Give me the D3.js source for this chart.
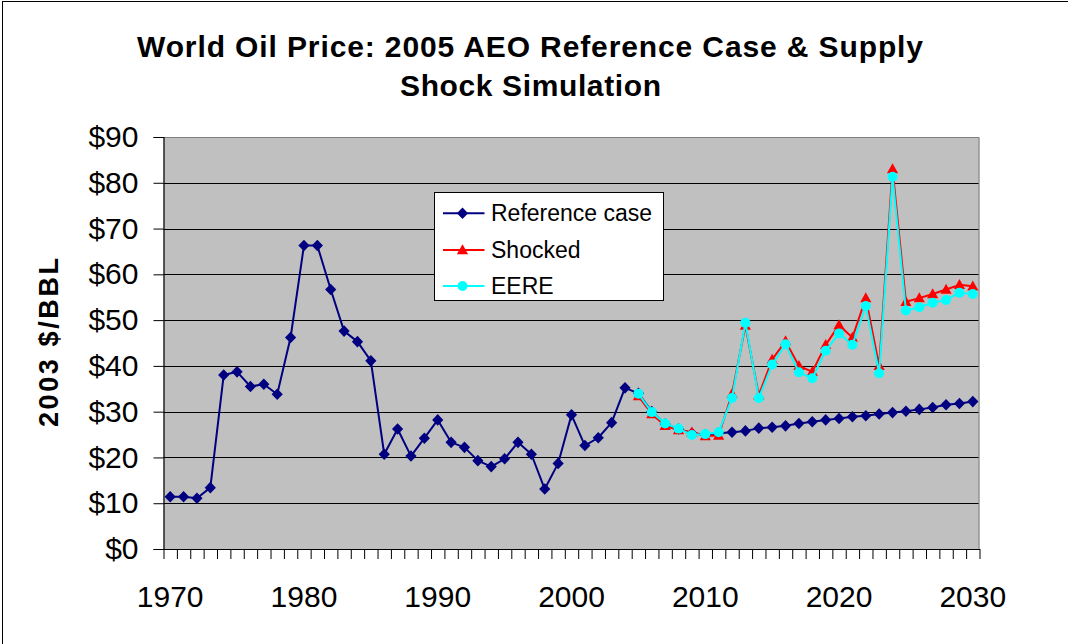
<!DOCTYPE html>
<html>
<head>
<meta charset="utf-8">
<script src="https://cdn.jsdelivr.net/npm/d3@7"></script>
<style>
  html, body { margin: 0; padding: 0; background: #fff; }
  svg { display: block; font-family: "Liberation Sans", Arial, sans-serif; }
</style>
</head>
<body>
<svg id="chart" width="1068" height="644"></svg>
<script>
// ---------- DATA ----------
const years = d3.range(1970, 2031);
const xTickLabels = ["1970", "1980", "1990", "2000", "2010", "2020", "2030"];
const yTickValues = [0, 10, 20, 30, 40, 50, 60, 70, 80, 90];

const referenceCase = [
  11.4, 11.4, 11.1, 13.4, 38.0, 38.7, 35.5, 36.0, 33.8, 46.2,   // 1970-1979
  66.3, 66.3, 56.7, 47.6, 45.3, 41.1, 20.7, 26.2, 20.3, 24.2,   // 1980-1989
  28.2, 23.3, 22.2, 19.3, 18.0, 19.7, 23.3, 20.7, 13.1, 18.7,   // 1990-1999
  29.3, 22.6, 24.3, 27.6, 35.2, 34.0, 30.0, 27.3, 26.2, 25.3,   // 2000-2009
  25.0, 25.3, 25.5, 25.8, 26.4, 26.6, 26.9, 27.4, 27.8, 28.2,   // 2010-2019
  28.5, 28.9, 29.1, 29.5, 29.8, 30.1, 30.5, 30.9, 31.5, 31.8,   // 2020-2029
  32.2                                                          // 2030
];

const shockYears = d3.range(2005, 2031);
const shocked = [
  33.4, 29.5, 26.9, 26.0, 25.5, 24.7, 24.8, 33.9, 48.8, 33.6,   // 2005-2014
  41.4, 45.4, 40.0, 38.7, 44.6, 48.9, 46.2, 54.8, 40.0, 83.0,   // 2015-2024
  54.0, 54.8, 55.7, 56.7, 57.7, 57.4                            // 2025-2030
];
const eere = [
  33.9, 29.9, 27.4, 26.3, 24.9, 25.1, 25.5, 33.0, 49.4, 33.0,   // 2005-2014
  40.3, 44.7, 38.6, 37.3, 43.3, 47.1, 44.6, 53.1, 38.4, 81.3,   // 2015-2024
  52.1, 52.8, 53.8, 54.4, 56.0, 55.7                            // 2025-2030
];

const seriesNames = ["Reference case", "Shocked", "EERE"];
const seriesColors = ["#000080", "#FF0000", "#00FFFF"];

// ---------- LAYOUT ----------
const svg = d3.select("#chart");
const W = 1068, H = 644;
const plot = { left: 163.5, right: 979.5, top: 137, bottom: 549 };

const x = d3.scaleBand().domain(years).range([plot.left, plot.right]).padding(0);
const xc = d => x(d) + x.bandwidth() / 2;
const y = d3.scaleLinear().domain([0, 90]).range([plot.bottom, plot.top]);

// outer chart border (top & left visible in reference)
svg.append("line").attr("x1", 2.5).attr("x2", 2.5).attr("y1", 1).attr("y2", H).attr("stroke", "#000").attr("stroke-width", 1);
svg.append("line").attr("x1", 2).attr("x2", W).attr("y1", 1.5).attr("y2", 1.5).attr("stroke", "#000").attr("stroke-width", 1);

// plot background
svg.append("rect")
  .attr("x", plot.left).attr("y", plot.top)
  .attr("width", plot.right - plot.left).attr("height", plot.bottom - plot.top)
  .attr("fill", "#C0C0C0");

// plot border (gray top/right)
svg.append("path")
  .attr("d", `M${plot.left},${plot.top + 0.5}H${plot.right - 0.5}V${plot.bottom}`)
  .attr("fill", "none").attr("stroke", "#808080").attr("stroke-width", 1);

// gridlines
svg.append("g").selectAll("line")
  .data(yTickValues.filter(v => v > 0 && v < 90))
  .join("line")
  .attr("x1", plot.left).attr("x2", plot.right - 1)
  .attr("y1", d => Math.round(y(d)) + 0.5).attr("y2", d => Math.round(y(d)) + 0.5)
  .attr("stroke", "#000").attr("stroke-width", 1);

// Y axis
const yAxis = d3.axisLeft(y).tickValues(yTickValues).tickFormat(d => "$" + d).tickSize(10).tickPadding(15);
const gy = svg.append("g").attr("transform", `translate(${plot.left},0)`).call(yAxis);
gy.select(".domain").attr("stroke", "#000").attr("stroke-width", 1.2);
gy.selectAll(".tick line").attr("stroke", "#000");
gy.selectAll(".tick text").attr("font-size", 30).attr("fill", "#000")
  .attr("font-family", "Liberation Sans, Arial, sans-serif");

// X axis: boundary tick marks
const xb = d3.scaleLinear().domain([0, years.length]).range([plot.left, plot.right]);
const xAxisMarks = d3.axisBottom(xb).tickValues(d3.range(0, years.length + 1)).tickFormat("").tickSize(10).tickSizeOuter(0);
const gxm = svg.append("g").attr("transform", `translate(0,${plot.bottom})`).call(xAxisMarks);
gxm.select(".domain").attr("stroke", "#000").attr("stroke-width", 1.2);
gxm.selectAll(".tick line").attr("stroke", "#000");

// X axis labels (centered on categories)
const xAxisLabels = d3.axisBottom(x).tickValues(xTickLabels.map(Number)).tickSize(0).tickPadding(37);
const gxl = svg.append("g").attr("transform", `translate(0,${plot.bottom})`).call(xAxisLabels);
gxl.select(".domain").remove();
gxl.selectAll(".tick text").attr("font-size", 30).attr("fill", "#000")
  .attr("font-family", "Liberation Sans, Arial, sans-serif");

// ---------- SERIES ----------
const line = d3.line().x(d => xc(d[0])).y(d => y(d[1]));
const refData = years.map((yr, i) => [yr, referenceCase[i]]);
const shockData = shockYears.map((yr, i) => [yr, shocked[i]]);
const eereData = shockYears.map((yr, i) => [yr, eere[i]]);

const diamond = "M0,-5.8L5.6,0L0,5.8L-5.6,0Z";
const triangle = "M0,-5.8L5.6,4.2L-5.6,4.2Z";

function drawSeries(data, color, markerFn) {
  const g = svg.append("g");
  g.append("path").datum(data).attr("d", line)
    .attr("fill", "none").attr("stroke", color).attr("stroke-width", 2).attr("stroke-linejoin", "round");
  markerFn(g.selectAll(".m").data(data).join("g").attr("class", "m")
    .attr("transform", d => `translate(${xc(d[0])},${y(d[1])})`), color);
}

drawSeries(refData, seriesColors[0], (sel, c) => sel.append("path").attr("d", diamond).attr("fill", c));
drawSeries(shockData, seriesColors[1], (sel, c) => sel.append("path").attr("d", triangle).attr("fill", c));
drawSeries(eereData, seriesColors[2], (sel, c) => sel.append("circle").attr("r", 5).attr("fill", c));

// ---------- LEGEND ----------
const lg = svg.append("g").attr("transform", "translate(434.5,192.5)");
lg.append("rect").attr("width", 229).attr("height", 108).attr("fill", "#fff").attr("stroke", "#000").attr("stroke-width", 1);
const rowY = [20.8, 57.5, 93.5];
seriesNames.forEach((name, i) => {
  const r = lg.append("g").attr("transform", `translate(0,${rowY[i]})`);
  r.append("line").attr("x1", 8.5).attr("x2", 50).attr("y1", 0).attr("y2", 0)
    .attr("stroke", seriesColors[i]).attr("stroke-width", 2);
  const m = r.append("g").attr("transform", "translate(28,0)");
  if (i === 0) m.append("path").attr("d", diamond).attr("fill", seriesColors[0]);
  else if (i === 1) m.append("path").attr("d", triangle).attr("fill", seriesColors[1]);
  else m.append("circle").attr("r", 5).attr("fill", seriesColors[2]);
  r.append("text").attr("x", 56.5).attr("y", 8).attr("font-size", 23).attr("fill", "#000").text(name);
});

// ---------- TITLES ----------
svg.append("text").attr("x", 530).attr("y", 57).attr("text-anchor", "middle")
  .attr("font-size", 30).attr("font-weight", "bold").attr("textLength", 786).attr("lengthAdjust", "spacing")
  .text("World Oil Price: 2005 AEO Reference Case & Supply");
svg.append("text").attr("x", 530.5).attr("y", 96).attr("text-anchor", "middle")
  .attr("font-size", 30).attr("font-weight", "bold").attr("textLength", 261).attr("lengthAdjust", "spacing")
  .text("Shock Simulation");

svg.append("text")
  .attr("transform", "translate(58,342.5) rotate(-90)")
  .attr("text-anchor", "middle")
  .attr("font-size", 27).attr("font-weight", "bold").attr("textLength", 169).attr("lengthAdjust", "spacing")
  .text("2003 $/BBL");
</script>
</body>
</html>
